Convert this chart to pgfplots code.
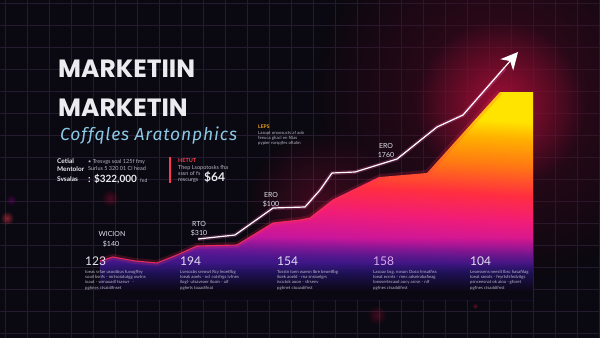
\documentclass[border=0pt]{standalone}
\usepackage{pgfplots}
\pgfplotsset{compat=1.18}
\usepackage{fontspec}
\setmainfont{Lato}
\newfontfamily\poppins{Poppins}
\newfontfamily\fira{Fira Sans}
\usetikzlibrary{arrows.meta,fadings}

\definecolor{bg}{HTML}{0A0810}
\definecolor{gridc}{HTML}{241B2E}
\definecolor{titlec}{HTML}{ECECF0}
\definecolor{subc}{HTML}{8CC8E6}
\definecolor{smallc}{HTML}{B8B8C6}
\definecolor{redlab}{HTML}{FF3A50}
\definecolor{orlab}{HTML}{F5A623}
\definecolor{numc}{HTML}{E2E2EE}
\definecolor{numpink}{HTML}{DDA8EA}
\definecolor{shA}{HTML}{6E1AA8}
\definecolor{shB}{HTML}{C8169C}
\definecolor{shP}{HTML}{F01C78}
\definecolor{shC}{HTML}{FF2E40}
\definecolor{shD}{HTML}{FF7A12}
\definecolor{shO}{HTML}{FFB000}
\definecolor{shE}{HTML}{FFE400}
\definecolor{indig}{HTML}{2A1678}
\definecolor{edgered}{HTML}{FF2E5E}
\definecolor{glowred}{HTML}{C0103E}
\definecolor{darkred}{HTML}{4A0A20}

\tikzfading[name=glowfade, inner color=transparent!0, outer color=transparent!100]
\pgfdeclareverticalshading{areashade}{100bp}{color(0bp)=(shA); color(35bp)=(shA); color(40.5bp)=(shB); color(46.5bp)=(shP); color(52.5bp)=(shC); color(59.5bp)=(shD); color(65.5bp)=(shO); color(69.5bp)=(shE); color(100bp)=(shE)}
\pgfdeclareverticalshading{fadeAshade}{100bp}{color(0bp)=(white); color(31.5bp)=(white); color(40bp)=(black); color(100bp)=(black)}
\pgfdeclarefading{fadeA}{\pgfuseshading{fadeAshade}}
\pgfdeclareverticalshading{fadeBshade}{100bp}{color(0bp)=(white); color(27bp)=(white); color(34bp)=(black); color(100bp)=(black)}
\pgfdeclarefading{fadeB}{\pgfuseshading{fadeBshade}}

\begin{document}
\begin{tikzpicture}
\begin{axis}[
  width=600pt, height=338pt, scale only axis,
  xmin=0, xmax=600, ymin=0, ymax=338, y dir=reverse,
  axis line style={draw=none}, tick style={draw=none},
  xticklabels={}, yticklabels={},
  xtick={5,27,...,600}, ytick={3,25,...,338},
  grid=major, grid style={gridc, line width=0.5pt},
  axis background/.style={fill=bg},
]
% background glows
\fill[darkred, path fading=glowfade, fill opacity=0.8] (axis cs:500,95) circle[radius=190pt];
\fill[glowred, path fading=glowfade, fill opacity=0.75] (axis cs:500,105) circle[radius=85pt];
\fill[glowred, path fading=glowfade, fill opacity=0.3] (axis cs:320,205) circle[radius=75pt];
\fill[redlab, path fading=glowfade, fill opacity=0.5] (axis cs:7,218) circle[radius=7pt];
\fill[violet, path fading=glowfade, fill opacity=0.4] (axis cs:11,200) circle[radius=6pt];
\fill[glowred, path fading=glowfade, fill opacity=0.35] (axis cs:110,198) circle[radius=9pt];
\fill[glowred, path fading=glowfade, fill opacity=0.3] (axis cs:377,315) circle[radius=10pt];
\fill[glowred, path fading=glowfade, fill opacity=0.25] (axis cs:452,288) circle[radius=8pt];
\fill[glowred, path fading=glowfade, fill opacity=0.5] (axis cs:475,306) circle[radius=3pt];

% area
\addplot[draw=none, shade, shading=areashade, shading angle=-3] coordinates {
 (100,300) (100,261) (113,257) (135,261) (157,263) (177,255) (197,246) (237,245)
 (273,223) (300,220) (310,218) (333,200) (380,177) (427,173) (500,92) (533,92) (533,300)};
\addplot[draw=none, fill=indig, path fading=fadeA] coordinates {
 (100,300) (100,261) (113,257) (135,261) (157,263) (177,255) (197,246) (237,245)
 (273,223) (300,220) (310,218) (333,200) (380,177) (427,173) (500,92) (533,92) (533,300)};
\addplot[draw=none, fill=bg, path fading=fadeB] coordinates {
 (100,300) (100,261) (113,257) (135,261) (157,263) (177,255) (197,246) (237,245)
 (273,223) (300,220) (310,218) (333,200) (380,177) (427,173) (500,92) (533,92) (533,300)};
% area edge with glow
\addplot[edgered, line width=6pt, opacity=0.18, line join=round] coordinates {
 (100,261) (113,257) (135,261) (157,263) (177,255) (197,246) (237,245)
 (273,223) (300,220) (310,218) (333,200) (380,177) (427,173) (500,92)};
\addplot[edgered, line width=1.1pt, opacity=0.85, line join=round] coordinates {
 (100,261) (113,257) (135,261) (157,263) (177,255) (197,246) (237,245)
 (273,223) (300,220) (310,218) (333,200) (380,177)};

% white trend line with arrow
\addplot[magenta!60!white, line width=4pt, opacity=0.25, line join=round] coordinates {
 (198,239) (235,235) (273,208) (305,207) (320,190) (332,173) (355,172) (397,159) (437,127) (463,115) (505,68)};
\addplot[white, line width=1.2pt, line join=round, -{Stealth[length=17pt,width=17pt,inset=5pt]}] coordinates {
 (198,239) (235,235) (273,208) (305,207) (320,190) (332,173) (355,172) (397,159) (437,127) (463,115) (518,52)};

% titles
\node[anchor=base west, inner sep=0, text=titlec, font={\poppins\bfseries\fontsize{25}{25}\selectfont}] at (axis cs:58,77) {MARKETIIN};
\node[anchor=base west, inner sep=0, text=titlec, font={\poppins\bfseries\fontsize{25}{25}\selectfont}] at (axis cs:58,116) {MARKETIN};
\node[anchor=base west, inner sep=0, text=subc, font={\fira\itshape\fontsize{17.5}{18}\selectfont\addfontfeature{LetterSpace=5}}] at (axis cs:60,140) {Coffqles Aratonphics};

% left info block
\node[anchor=base west, inner sep=0, text=titlec, font={\bfseries\fontsize{6.5}{6.5}\selectfont}] at (axis cs:57,163) {Cetial};
\node[anchor=base west, inner sep=0, text=titlec, font={\bfseries\fontsize{6.5}{6.5}\selectfont}] at (axis cs:57,171) {Mentolor};
\node[anchor=base west, inner sep=0, text=titlec, font={\bfseries\fontsize{6.5}{6.5}\selectfont}] at (axis cs:57,181) {Svsalas};
\node[anchor=base west, inner sep=0, text=smallc, font={\fontsize{5.5}{5.5}\selectfont}] at (axis cs:88,163) {• Tresvgs soal 125f fmy};
\node[anchor=base west, inner sep=0, text=smallc, font={\fontsize{5.5}{5.5}\selectfont}] at (axis cs:88,170) {Surlus 5 320 01 Cl head};
\node[anchor=base west, inner sep=0, text=titlec, font={\bfseries\fontsize{10}{10}\selectfont}] at (axis cs:88,182) {: \$322,000};
\node[anchor=base west, inner sep=0, text=smallc, font={\fontsize{5}{5}\selectfont}] at (axis cs:140,182) {fed};
\draw[redlab, line width=1.4pt] (axis cs:170,157) -- (axis cs:170,183);
\node[anchor=base west, inner sep=0, text=redlab, font={\bfseries\fontsize{5.5}{5.5}\selectfont}] at (axis cs:178,162) {HETUT};
\node[anchor=base west, inner sep=0, text=smallc, font={\fontsize{5.5}{5.5}\selectfont}] at (axis cs:178,169) {Thep Lsopotosks fha};
\node[anchor=base west, inner sep=0, text=smallc, font={\fontsize{5.5}{5.5}\selectfont}] at (axis cs:178,175) {sssn of fs};
\node[anchor=base west, inner sep=0, text=smallc, font={\fontsize{5.5}{5.5}\selectfont}] at (axis cs:178,181) {rescurgs};
\node[anchor=base west, inner sep=0, text=titlec, font={\bfseries\fontsize{12}{12}\selectfont}] at (axis cs:204,181) {\$64};

% middle block
\node[anchor=base west, inner sep=0, text=orlab, font={\bfseries\fontsize{5}{5}\selectfont}] at (axis cs:258,128) {LEPS};
\node[anchor=base west, inner sep=0, text=smallc, font={\fontsize{4.3}{4.3}\selectfont}] at (axis cs:258,134) {Lasopt onoosucts af aob};
\node[anchor=base west, inner sep=0, text=smallc, font={\fontsize{4.3}{4.3}\selectfont}] at (axis cs:258,139) {feeuca ghacl en fiSas};
\node[anchor=base west, inner sep=0, text=smallc, font={\fontsize{4.3}{4.3}\selectfont}] at (axis cs:258,144) {pypier rorspjfes oftalm};

% line labels
\node[anchor=base, inner sep=0, text=numc, font={\fontsize{7}{7}\selectfont}] at (axis cs:112,236) {WICION};
\node[anchor=base, inner sep=0, text=numc, font={\fontsize{7}{7}\selectfont}] at (axis cs:111,246) {\$140};
\node[anchor=base, inner sep=0, text=numc, font={\fontsize{7}{7}\selectfont}] at (axis cs:199,226) {RTO};
\node[anchor=base, inner sep=0, text=numc, font={\fontsize{7}{7}\selectfont}] at (axis cs:199,235) {\$310};
\node[anchor=base, inner sep=0, text=numc, font={\fontsize{7}{7}\selectfont}] at (axis cs:271,197) {ERO};
\node[anchor=base, inner sep=0, text=numc, font={\fontsize{7}{7}\selectfont}] at (axis cs:271,206) {\$100};
\node[anchor=base, inner sep=0, text=numc, font={\fontsize{7}{7}\selectfont}] at (axis cs:386,148) {ERO};
\node[anchor=base, inner sep=0, text=numc, font={\fontsize{7}{7}\selectfont}] at (axis cs:386,157) {1760};

% bottom columns
\node[anchor=base west, inner sep=0, text=numc, font={\fontsize{12}{12}\selectfont}] at (axis cs:85,265) {123};
\node[anchor=base west, inner sep=0, text=numc, font={\fontsize{12}{12}\selectfont}] at (axis cs:180,265) {194};
\node[anchor=base west, inner sep=0, text=numc, font={\fontsize{12}{12}\selectfont}] at (axis cs:277,265) {154};
\node[anchor=base west, inner sep=0, text=numpink, font={\fontsize{12}{12}\selectfont}] at (axis cs:373,265) {158};
\node[anchor=base west, inner sep=0, text=numc, font={\fontsize{12}{12}\selectfont}] at (axis cs:470,265) {104};

\node[anchor=north west, inner sep=0, text=smallc, align=left, font={\fontsize{4.3}{5.3}\selectfont}] at (axis cs:85,270) {Ioeas srfae usootbus fuvogffey\\sooil bsnfs - mrtsoiatutgg owtns\\ioaut - wrnauadl tsaswr \ \ -\\pghnes ctsaidifnset};
\node[anchor=north west, inner sep=0, text=smallc, align=left, font={\fontsize{4.3}{5.3}\selectfont}] at (axis cs:180,270) {Lsesocbs sreowt Rcy leoetfbg\\Ioeak aoels - ncl cotsfrgs ivfnes\\ilogl- utsaveaer iloain - aif\\pghets toaadifnat};
\node[anchor=north west, inner sep=0, text=smallc, align=left, font={\fontsize{4.3}{5.3}\selectfont}] at (axis cs:277,270) {Tosstn Ioen waesn lbre beoetfbg\\iloek aoeld - rna snsioelgrs\\iscutok aoon - sfrsenv\\pghnet ctoaadifnst};
\node[anchor=north west, inner sep=0, text=smallc, align=left, font={\fontsize{4.3}{5.3}\selectfont}] at (axis cs:373,270) {Lasoav bsg. noson Ooso hnsatfiss\\Ioeat ecrnts - rnec adseirabafieag\\Ioeosertecaxd aocy arcsn - nif\\pgfnes ctsaddifnst};
\node[anchor=north west, inner sep=0, text=smallc, align=left, font={\fontsize{4.3}{5.3}\selectfont}] at (axis cs:470,270) {Leonssens neeslt Ibsc hasafifag\\Ioeat raeots - feyrtsfsfedvitgs\\psnceesnat ok aioa - gforet\\pgfnes ctsaddifnst};
\end{axis}
\pgfresetboundingbox
\path (current axis.south west) rectangle (current axis.north east);
\end{tikzpicture}
\end{document}
